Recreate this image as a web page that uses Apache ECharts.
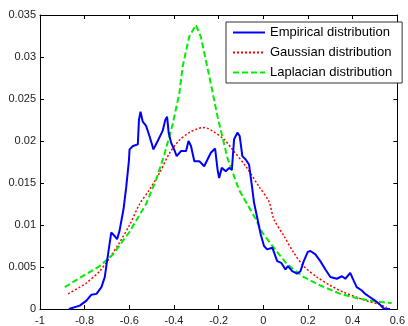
<!DOCTYPE html>
<html><head><meta charset="utf-8">
<script src="https://cdn.jsdelivr.net/npm/echarts@6/dist/echarts.min.js"></script>
<style>html,body{margin:0;padding:0;background:#fff}#c{width:408px;height:326px}</style>
</head><body><div id="c"></div>
<script>
const xTicks = [-1, -0.8, -0.6, -0.4, -0.2, 0, 0.2, 0.4, 0.6];
const yTicks = [0, 0.005, 0.01, 0.015, 0.02, 0.025, 0.03, 0.035];
const seriesNames = ['Empirical distribution', 'Gaussian distribution', 'Laplacian distribution'];

const empX = [-0.871,-0.822,-0.792,-0.770,-0.747,-0.725,-0.710,-0.703,-0.691,-0.681,-0.666,-0.655,-0.644,-0.626,-0.614,-0.602,-0.599,-0.584,-0.562,-0.557,-0.550,-0.540,-0.525,-0.510,-0.492,-0.473,-0.451,-0.439,-0.431,-0.424,-0.413,-0.398,-0.388,-0.369,-0.346,-0.335,-0.324,-0.309,-0.287,-0.265,-0.250,-0.235,-0.216,-0.205,-0.198,-0.186,-0.168,-0.153,-0.141,-0.131,-0.116,-0.106,-0.094,-0.079,-0.064,-0.049,-0.042,-0.034,-0.027,-0.012,0.003,0.017,0.040,0.062,0.080,0.099,0.110,0.129,0.151,0.166,0.181,0.199,0.211,0.233,0.255,0.278,0.300,0.329,0.352,0.367,0.389,0.404,0.418,0.441,0.456,0.478,0.500,0.523,0.537,0.560,0.567];
const empY = [0,0.0004,0.001,0.0017,0.0018,0.0026,0.0038,0.0051,0.0073,0.0091,0.0087,0.0083,0.0093,0.0119,0.0145,0.0176,0.0190,0.0194,0.0196,0.0225,0.0235,0.0223,0.0218,0.0206,0.0190,0.0200,0.0212,0.0225,0.0229,0.0210,0.0198,0.0189,0.0182,0.0188,0.0188,0.0200,0.0194,0.0176,0.0176,0.0170,0.0178,0.0186,0.0191,0.0166,0.0156,0.0168,0.0164,0.0168,0.0166,0.0202,0.0210,0.0206,0.0182,0.0178,0.0172,0.0142,0.0127,0.0117,0.0108,0.0089,0.0075,0.0071,0.0073,0.0057,0.0055,0.0047,0.0051,0.0045,0.0042,0.0045,0.0057,0.0068,0.0069,0.0065,0.0057,0.0047,0.0038,0.0036,0.0039,0.0036,0.0043,0.0034,0.0026,0.0022,0.0018,0.0014,0.0010,0.0005,0.0001,0,0];

const gauX = [-0.874,-0.822,-0.792,-0.733,-0.688,-0.644,-0.599,-0.554,-0.510,-0.465,-0.421,-0.376,-0.332,-0.300,-0.272,-0.250,-0.228,-0.176,-0.139,-0.079,-0.020,0.025,0.047,0.092,0.136,0.181,0.240,0.300,0.359,0.418,0.470,0.515,0.552];
const gauY = [0.0018,0.0026,0.0031,0.0045,0.0061,0.0079,0.0100,0.0125,0.0142,0.0162,0.0185,0.0201,0.0210,0.0214,0.0216,0.0215,0.0212,0.0202,0.0190,0.0170,0.0146,0.0128,0.0107,0.0087,0.0067,0.0051,0.0038,0.0028,0.0020,0.0014,0.0009,0.0006,0.0002];

const lapX = [-0.889,-0.822,-0.733,-0.673,-0.599,-0.525,-0.480,-0.443,-0.406,-0.376,-0.361,-0.332,-0.302,-0.280,-0.242,-0.205,-0.161,-0.109,-0.064,-0.034,-0.005,0.047,0.107,0.181,0.255,0.344,0.434,0.500,0.575];
const lapY = [0.0026,0.0037,0.0051,0.0065,0.0092,0.0125,0.0154,0.0184,0.0220,0.0257,0.0289,0.0324,0.0338,0.0324,0.0277,0.0229,0.0180,0.0142,0.0121,0.0107,0.0091,0.0073,0.0053,0.0038,0.0028,0.0018,0.0012,0.0009,0.0007];

const pairs = (xs, ys) => xs.map((x, i) => [x, ys[i]]);
const fontFam = '"Liberation Sans", Arial, sans-serif';
const axisCommon = {
  axisLine: { show: true, onZero: false, lineStyle: { color: '#000', width: 1 } },
  axisTick: { show: true, inside: true, length: 4, lineStyle: { color: '#000' } },
  splitLine: { show: false }
};

const chart = echarts.init(document.getElementById('c'), null, { renderer: 'canvas' });
chart.setOption({
  animation: false,
  backgroundColor: '#fff',
  grid: { left: 40, top: 15, right: 9, bottom: 16, containLabel: false },
  legend: {
    data: seriesNames,
    orient: 'vertical',
    left: 226, top: 22,
    padding: [4, 10, 4, 6],
    itemGap: 7,
    itemWidth: 32, itemHeight: 12,
    backgroundColor: '#fff',
    borderColor: '#333', borderWidth: 1,
    itemStyle: { opacity: 0 },
    textStyle: { fontFamily: fontFam, fontSize: 13, color: '#000' }
  },
  xAxis: [
    Object.assign({ type: 'value', min: -1, max: 0.6, interval: 0.2, position: 'bottom',
      axisLabel: { fontFamily: fontFam, fontSize: 11, color: '#222', margin: 6,
        formatter: v => { const r = Math.round(v * 10) / 10; return xTicks.includes(r) ? String(r) : ''; } } }, axisCommon),
    Object.assign({ type: 'value', min: -1, max: 0.6, interval: 0.2, position: 'top',
      axisLabel: { show: false } }, axisCommon)
  ],
  yAxis: [
    Object.assign({ type: 'value', min: 0, max: 0.035, interval: 0.005, position: 'left',
      axisLabel: { fontFamily: fontFam, fontSize: 11, color: '#222', margin: 4,
        formatter: v => { const r = Math.round(v * 1000) / 1000; return yTicks.includes(r) ? String(r) : ''; } } }, axisCommon),
    Object.assign({ type: 'value', min: 0, max: 0.035, interval: 0.005, position: 'right',
      axisLabel: { show: false } }, axisCommon)
  ],
  series: [
    { name: seriesNames[0], type: 'line', data: pairs(empX, empY), showSymbol: false, symbol: 'none',
      lineStyle: { color: '#0000ff', width: 2 }, itemStyle: { color: '#0000ff' }, z: 3 },
    { name: seriesNames[1], type: 'line', data: pairs(gauX, gauY), showSymbol: false, symbol: 'none', smooth: 0.3,
      lineStyle: { color: '#ff0000', width: 1.5, type: [2, 2] }, itemStyle: { color: '#ff0000' }, z: 2 },
    { name: seriesNames[2], type: 'line', data: pairs(lapX, lapY), showSymbol: false, symbol: 'none',
      lineStyle: { color: '#00ee00', width: 2, type: [6, 3] }, itemStyle: { color: '#00ee00' }, z: 2 }
  ]
});
</script></body></html>
